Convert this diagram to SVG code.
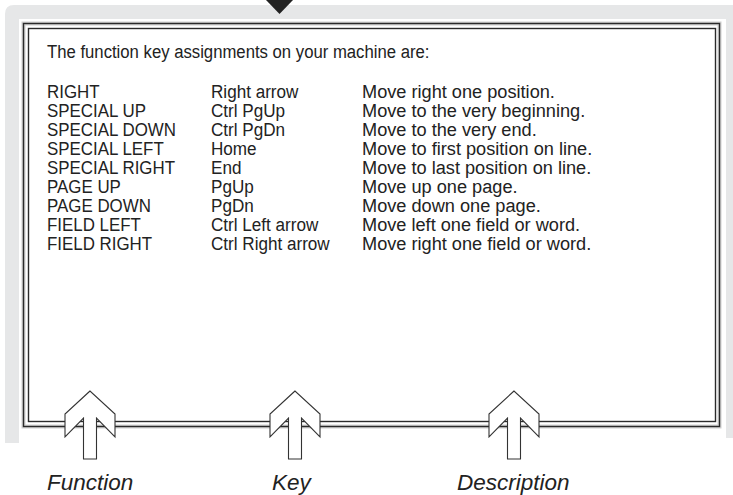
<svg xmlns="http://www.w3.org/2000/svg" width="733" height="495" viewBox="0 0 733 495">
<defs>
<style>
.t{font-family:"Liberation Sans",Arial,sans-serif;font-size:19px;fill:#222}
.d{font-family:"Liberation Sans",Arial,sans-serif;font-size:18px;fill:#222}
.lbl{font-family:"Liberation Sans",Arial,sans-serif;font-size:22.5px;font-style:italic;fill:#222}
.frame{fill:none;stroke:#2a2a2a;stroke-width:1.4}
.arrow{fill:#fff;stroke:#333;stroke-width:1.1;stroke-linejoin:miter}
</style>
<path id="up" class="arrow" d="M0,0 L-25,23 V46 L-6.5,27 V68 H6.5 V27 L25,46 V23 Z"/>
</defs>
<g id="screen">
<path d="M5,443 V14 Q5,5 14,5 H740 V438 H726 V19 H19 V443 Z" fill="#e6e7e8"/>
<rect x="23.5" y="23.5" width="696" height="403" fill="none" stroke="#d0d0d0" stroke-width="4"/>
<rect x="23.5" y="23.5" width="696" height="403" class="frame"/>
<rect x="28.5" y="28.5" width="687" height="393" class="frame"/>
</g>
<g id="pointer">
<polygon points="266,0 293,0 279.5,14" fill="#222"/>
</g>
<g id="content">
<text class="t" transform="translate(47,58) scale(0.88,1)">The function key assignments on your machine are:</text>
<g id="col-function" transform="translate(47,0) scale(0.89,1)">
<text class="t" x="0" y="98">RIGHT</text>
<text class="t" x="0" y="117">SPECIAL UP</text>
<text class="t" x="0" y="136">SPECIAL DOWN</text>
<text class="t" x="0" y="155">SPECIAL LEFT</text>
<text class="t" x="0" y="174">SPECIAL RIGHT</text>
<text class="t" x="0" y="193">PAGE UP</text>
<text class="t" x="0" y="212">PAGE DOWN</text>
<text class="t" x="0" y="231">FIELD LEFT</text>
<text class="t" x="0" y="250">FIELD RIGHT</text>
</g>
<g id="col-key" transform="translate(211,0) scale(0.9,1)">
<text class="t" x="0" y="98">Right arrow</text>
<text class="t" x="0" y="117">Ctrl PgUp</text>
<text class="t" x="0" y="136">Ctrl PgDn</text>
<text class="t" x="0" y="155">Home</text>
<text class="t" x="0" y="174">End</text>
<text class="t" x="0" y="193">PgUp</text>
<text class="t" x="0" y="212">PgDn</text>
<text class="t" x="0" y="231">Ctrl Left arrow</text>
<text class="t" x="0" y="250">Ctrl Right arrow</text>
</g>
<g id="col-desc" transform="translate(362,0) scale(1.01,1)">
<text class="d" x="0" y="98">Move right one position.</text>
<text class="d" x="0" y="117">Move to the very beginning.</text>
<text class="d" x="0" y="136">Move to the very end.</text>
<text class="d" x="0" y="155">Move to first position on line.</text>
<text class="d" x="0" y="174">Move to last position on line.</text>
<text class="d" x="0" y="193">Move up one page.</text>
<text class="d" x="0" y="212">Move down one page.</text>
<text class="d" x="0" y="231">Move left one field or word.</text>
<text class="d" x="0" y="250">Move right one field or word.</text>
</g>
</g>
<g id="connectors">
<use href="#up" x="90" y="391"/>
<use href="#up" x="295" y="391"/>
<use href="#up" x="514" y="391"/>
</g>
<g id="labels">
<text class="lbl" x="47" y="490">Function</text>
<text class="lbl" x="272" y="490">Key</text>
<text class="lbl" x="457" y="490">Description</text>
</g>
</svg>
